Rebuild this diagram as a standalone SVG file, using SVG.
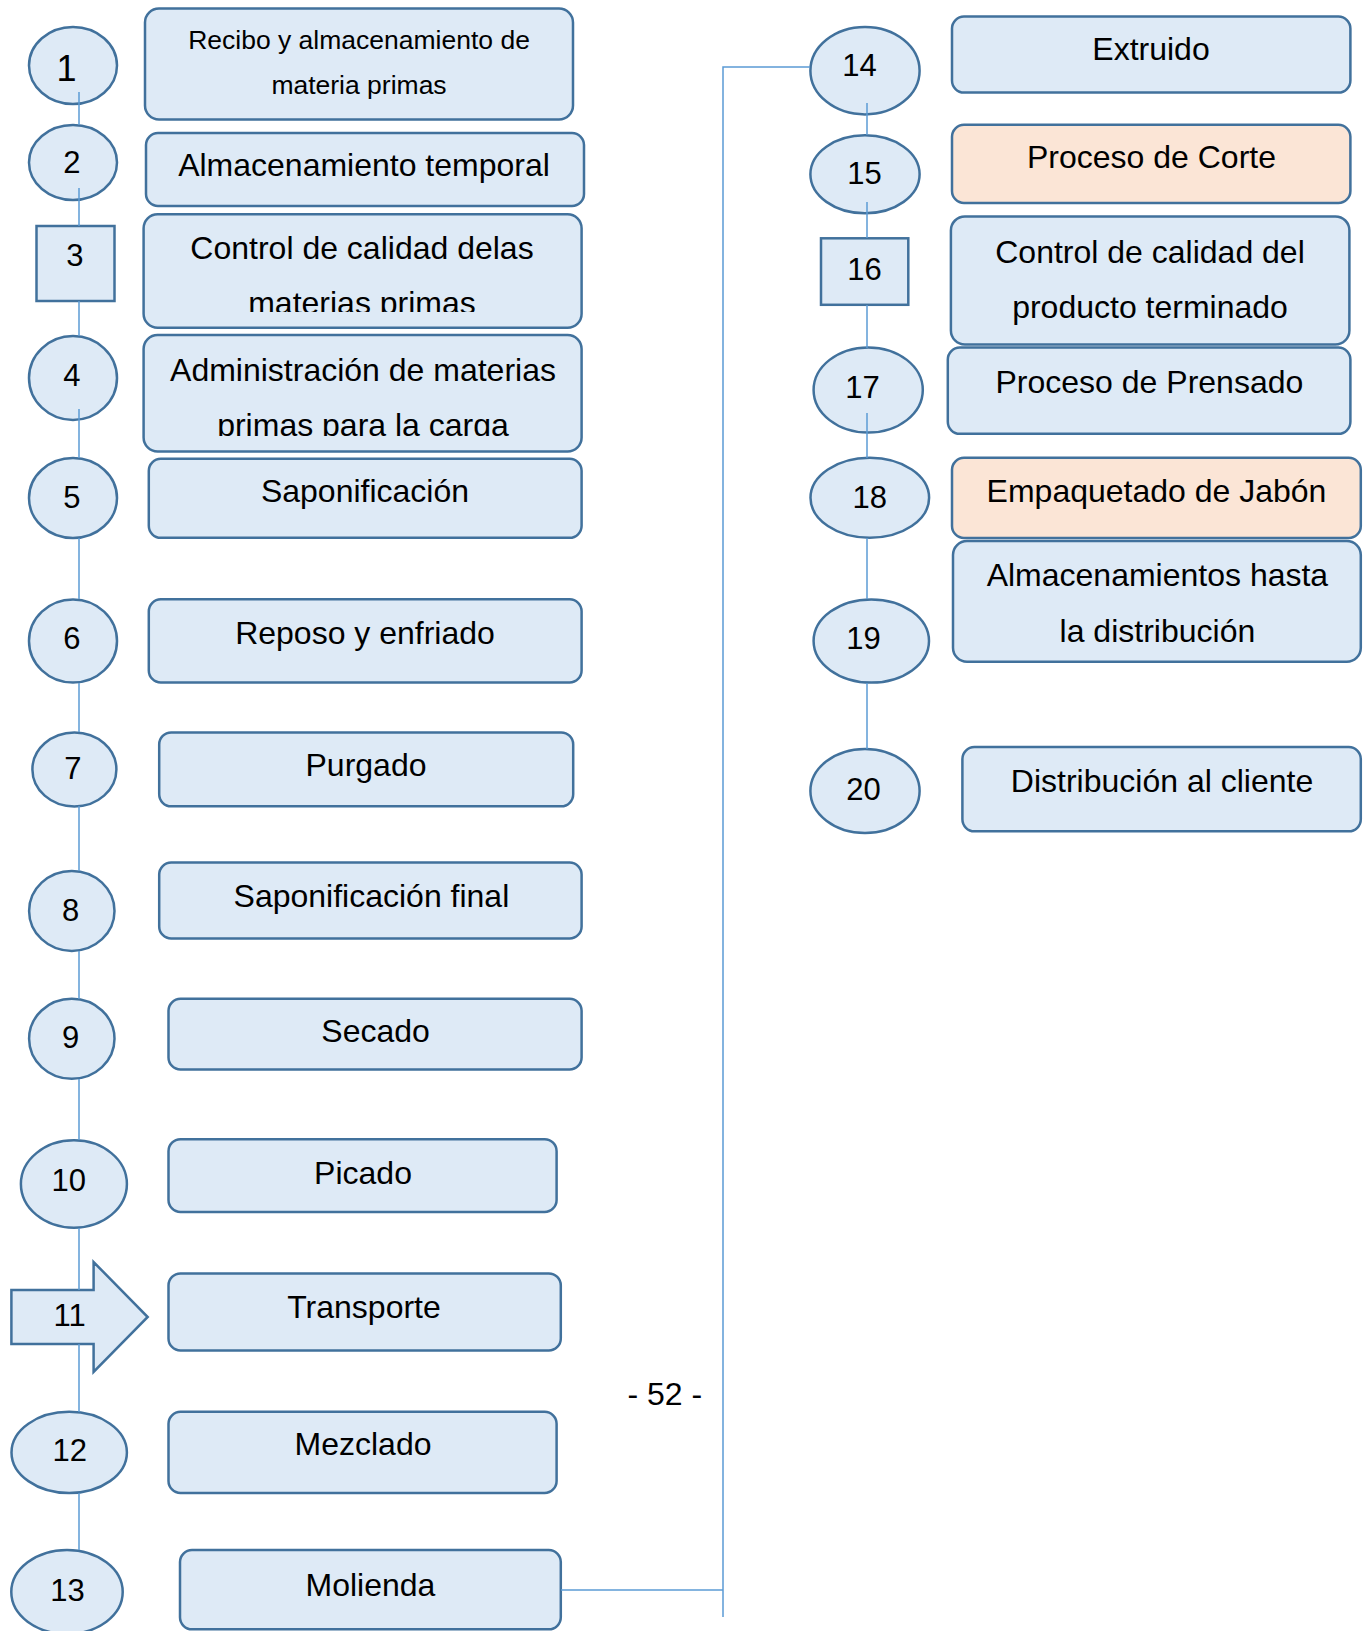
<svg xmlns="http://www.w3.org/2000/svg" width="1365" height="1631" viewBox="0 0 1365 1631">
  <style>
    .shape { fill: #DEEAF6; stroke: #41719C; stroke-width: 2.5; }
    .peach { fill: #FBE5D6; }
    .conn { fill: none; stroke: #5B9BD5; stroke-width: 1.5; }
    text { font-family: "Liberation Sans", Arial, sans-serif; fill: #000; text-anchor: middle; dominant-baseline: central; }
    .lbl { font-size: 32px; }
    .small { font-size: 26.5px; }
    .num { font-size: 31px; }
    .page { font-size: 32px; }
  </style>
  <defs>
    <clipPath id="clip3"><rect x="140" y="210" width="450" height="102"/></clipPath>
    <clipPath id="clip4"><rect x="140" y="330" width="450" height="106"/></clipPath>
  </defs>

  <rect width="1365" height="1631" fill="#fff"/>

  <!-- left column: step markers -->
  <g id="n1"><ellipse class="shape" cx="73" cy="65.5" rx="44" ry="38.5"/><text class="num" x="66.6" y="68.7" style="font-size:36px">1</text></g>
  <g id="n2"><ellipse class="shape" cx="73" cy="162.5" rx="44" ry="37.5"/><text class="num" x="71.8" y="162.3">2</text></g>
  <g id="n3"><rect class="shape" x="36.5" y="226" width="78" height="75"/><text class="num" x="74.9" y="255.9">3</text></g>
  <g id="n4"><ellipse class="shape" cx="73" cy="378" rx="44" ry="42"/><text class="num" x="71.8" y="375.6">4</text></g>
  <g id="n5"><ellipse class="shape" cx="73" cy="498" rx="44" ry="40"/><text class="num" x="71.8" y="497.3">5</text></g>
  <g id="n6"><ellipse class="shape" cx="73" cy="641" rx="44" ry="41.6"/><text class="num" x="71.8" y="638.8">6</text></g>
  <g id="n7"><ellipse class="shape" cx="74.4" cy="769.4" rx="42" ry="37"/><text class="num" x="72.8" y="768.9">7</text></g>
  <g id="n8"><ellipse class="shape" cx="71.8" cy="910.9" rx="42.7" ry="40"/><text class="num" x="70.7" y="910.3">8</text></g>
  <g id="n9"><ellipse class="shape" cx="71.8" cy="1038.8" rx="42.7" ry="40"/><text class="num" x="70.7" y="1037.3">9</text></g>
  <g id="n10"><ellipse class="shape" cx="73.9" cy="1184" rx="53" ry="43.7"/><text class="num" x="68.7" y="1180">10</text></g>
  <g id="n11"><polygon class="shape" points="11.4,1290 93.6,1290 93.6,1262 147.7,1317 93.6,1372 93.6,1344 11.4,1344"/><text class="num" x="69.7" y="1315">11</text></g>
  <g id="n12"><ellipse class="shape" cx="69.2" cy="1452.4" rx="57.7" ry="40.6"/><text class="num" x="69.7" y="1450.3">12</text></g>
  <g id="n13"><ellipse class="shape" cx="67" cy="1592" rx="55.7" ry="42"/><text class="num" x="67.6" y="1590.9">13</text></g>

  <!-- left column: step descriptions -->
  <g id="b1"><rect class="shape" x="145" y="8.5" width="428" height="111" rx="14"/>
    <text class="small" x="359" y="39.5">Recibo y almacenamiento de</text>
    <text class="small" x="359" y="85.3">materia primas</text></g>
  <g id="b2"><rect class="shape" x="146" y="133" width="438" height="73" rx="12"/>
    <text class="lbl" x="364" y="165.4">Almacenamiento temporal</text></g>
  <g id="b3"><rect class="shape" x="143.6" y="214.3" width="438" height="113.4" rx="14"/>
    <g clip-path="url(#clip3)">
      <text class="lbl" x="362" y="247.6">Control de calidad delas</text>
      <text class="lbl" x="362" y="302.8">materias primas</text></g></g>
  <g id="b4"><rect class="shape" x="143.6" y="335" width="438" height="116.5" rx="14"/>
    <g clip-path="url(#clip4)">
      <text class="lbl" x="363" y="370.4">Administración de materias</text>
      <text class="lbl" x="363" y="424.5">primas para la carga</text></g></g>
  <g id="b5"><rect class="shape" x="148.8" y="458.8" width="432.8" height="79" rx="12"/>
    <text class="lbl" x="365" y="491">Saponificación</text></g>
  <g id="b6"><rect class="shape" x="148.8" y="599.3" width="432.8" height="83.2" rx="12"/>
    <text class="lbl" x="365" y="632.6">Reposo y enfriado</text></g>
  <g id="b7"><rect class="shape" x="159.2" y="732.4" width="414" height="73.9" rx="12"/>
    <text class="lbl" x="366" y="764.7">Purgado</text></g>
  <g id="b8"><rect class="shape" x="159.2" y="862.5" width="422.4" height="75.9" rx="12"/>
    <text class="lbl" x="371.4" y="895.8">Saponificación final</text></g>
  <g id="b9"><rect class="shape" x="168.5" y="998.8" width="413.1" height="70.7" rx="12"/>
    <text class="lbl" x="375.6" y="1031">Secado</text></g>
  <g id="b10"><rect class="shape" x="168.5" y="1139.2" width="388.1" height="72.8" rx="12"/>
    <text class="lbl" x="363" y="1172.5">Picado</text></g>
  <g id="b11"><rect class="shape" x="168.5" y="1273.4" width="392.3" height="77" rx="12"/>
    <text class="lbl" x="364" y="1306.7">Transporte</text></g>
  <g id="b12"><rect class="shape" x="168.5" y="1411.8" width="388.1" height="81.2" rx="12"/>
    <text class="lbl" x="363" y="1444">Mezclado</text></g>
  <g id="b13"><rect class="shape" x="180" y="1550" width="380.8" height="79.3" rx="12"/>
    <text class="lbl" x="370.4" y="1584.5">Molienda</text></g>

  <!-- right column: step markers -->
  <g id="n14"><ellipse class="shape" cx="865" cy="70.7" rx="54.6" ry="43.7"/><text class="num" x="859.4" y="65.5">14</text></g>
  <g id="n15"><ellipse class="shape" cx="865" cy="174.3" rx="54.6" ry="39"/><text class="num" x="864.6" y="173.7">15</text></g>
  <g id="n16"><rect class="shape" x="821" y="238.3" width="87.3" height="66.5"/><text class="num" x="864.6" y="269.5">16</text></g>
  <g id="n17"><ellipse class="shape" cx="868.2" cy="390" rx="54.6" ry="42.6"/><text class="num" x="862.5" y="387">17</text></g>
  <g id="n18"><ellipse class="shape" cx="869.8" cy="497.8" rx="59.3" ry="40"/><text class="num" x="869.8" y="497.3">18</text></g>
  <g id="n19"><ellipse class="shape" cx="871.3" cy="641" rx="57.7" ry="41.6"/><text class="num" x="863.5" y="638.8">19</text></g>
  <g id="n20"><ellipse class="shape" cx="865" cy="791" rx="54.6" ry="42"/><text class="num" x="863.5" y="789.7">20</text></g>

  <!-- right column: step descriptions -->
  <g id="b14"><rect class="shape" x="952" y="16.6" width="398.4" height="76" rx="12"/>
    <text class="lbl" x="1151" y="48.9">Extruido</text></g>
  <g id="b15"><rect class="shape peach" x="952" y="124.8" width="398.4" height="78.1" rx="12"/>
    <text class="lbl" x="1151.5" y="157.1">Proceso de Corte</text></g>
  <g id="b16"><rect class="shape" x="950.9" y="216.4" width="398.5" height="128" rx="14"/>
    <text class="lbl" x="1150" y="251.8">Control de calidad del</text>
    <text class="lbl" x="1150" y="306.9">producto terminado</text></g>
  <g id="b17"><rect class="shape" x="947.8" y="347.5" width="402.6" height="86.3" rx="12"/>
    <text class="lbl" x="1149.4" y="381.8">Proceso de Prensado</text></g>
  <g id="b18"><rect class="shape peach" x="952" y="457.8" width="408.8" height="80.1" rx="12"/>
    <text class="lbl" x="1156.5" y="491">Empaquetado de Jabón</text></g>
  <g id="b19"><rect class="shape" x="953" y="541" width="407.8" height="120.7" rx="14"/>
    <text class="lbl" x="1157.4" y="575.3">Almacenamientos hasta</text>
    <text class="lbl" x="1157.4" y="630.5">la distribución</text></g>
  <g id="b20"><rect class="shape" x="962.4" y="747" width="398.4" height="84.3" rx="12"/>
    <text class="lbl" x="1162" y="781.3">Distribución al cliente</text></g>

  <!-- step flow connectors, drawn over the markers -->
  <g id="connectors">
    <line class="conn" x1="79" y1="92" x2="79" y2="125"/>
    <line class="conn" x1="79" y1="188" x2="79" y2="226"/>
    <line class="conn" x1="79" y1="301" x2="79" y2="336"/>
    <line class="conn" x1="79" y1="409" x2="79" y2="458"/>
    <line class="conn" x1="79" y1="538" x2="79" y2="599"/>
    <line class="conn" x1="79" y1="683" x2="79" y2="732"/>
    <line class="conn" x1="79" y1="806" x2="79" y2="871"/>
    <line class="conn" x1="79" y1="951" x2="79" y2="999"/>
    <line class="conn" x1="79" y1="1079" x2="79" y2="1140"/>
    <line class="conn" x1="79" y1="1228" x2="79" y2="1290"/>
    <line class="conn" x1="79" y1="1344" x2="79" y2="1412"/>
    <line class="conn" x1="79" y1="1493" x2="79" y2="1550"/>
    <polyline class="conn" points="561,1590 723,1590"/>
    <polyline class="conn" points="723,1617 723,67 810,67"/>
    <line class="conn" x1="867" y1="103" x2="867" y2="135"/>
    <line class="conn" x1="867" y1="202" x2="867" y2="238"/>
    <line class="conn" x1="867" y1="305" x2="867" y2="348"/>
    <line class="conn" x1="867" y1="413" x2="867" y2="458"/>
    <line class="conn" x1="867" y1="538" x2="867" y2="599"/>
    <line class="conn" x1="867" y1="683" x2="867" y2="749"/>
  </g>

  <!-- page number -->
  <text class="page" x="664.8" y="1394.1">- 52 -</text>
</svg>
